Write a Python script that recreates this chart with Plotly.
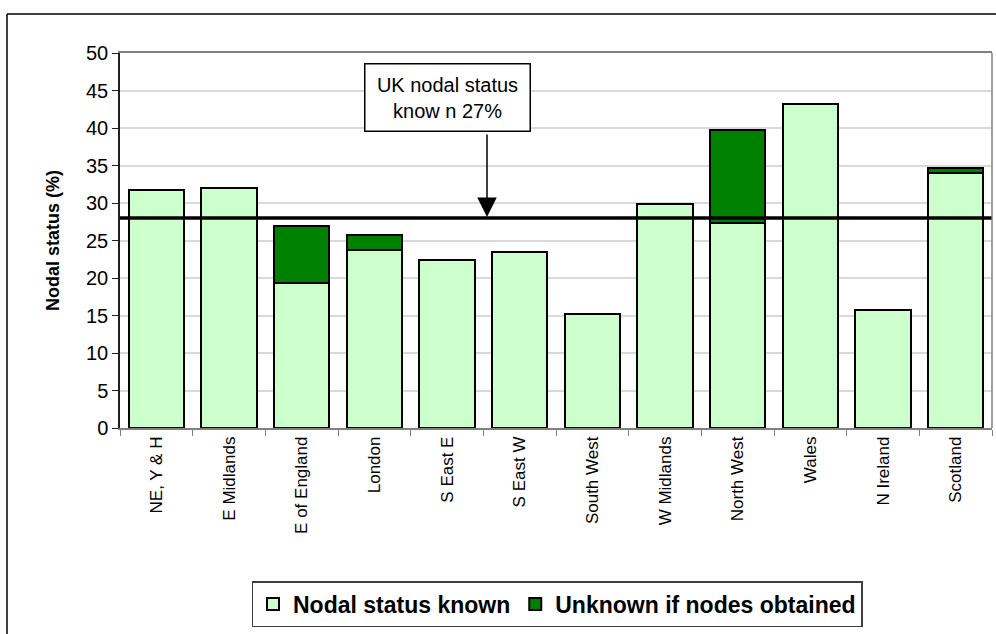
import plotly.graph_objects as go

regions = ['NE, Y & H', 'E Midlands', 'E of England', 'London', 'S East E', 'S East W',
           'South West', 'W Midlands', 'North West', 'Wales', 'N Ireland', 'Scotland']
known = [31.7, 32.0, 19.4, 23.7, 22.4, 23.5, 15.2, 29.9, 27.3, 43.2, 15.7, 34.0]
unknown = [0, 0, 7.6, 2.0, 0, 0, 0, 0, 12.4, 0, 0, 0.7]
uk_level = 28
uk_label = 'UK nodal status<br>know n 27%'

W, H = 996, 634
L, R, T, B = 120, 992, 53, 428   # plot area in pixels


def px(x):
    return (x - L) / (R - L)


def py(y):
    return (B - y) / (B - T)


fig = go.Figure()
fig.add_trace(go.Bar(x=regions, y=known, name='Nodal status known',
                     marker=dict(color='#CCFFCC', line=dict(color='black', width=2))))
fig.add_trace(go.Bar(x=regions, y=unknown, name='Unknown if nodes obtained',
                     marker=dict(color='#008000', line=dict(color='black', width=2))))

# UK average line
fig.add_shape(type='line', xref='paper', x0=0, x1=1, yref='y', y0=uk_level, y1=uk_level,
              line=dict(color='black', width=3.5), layer='above')
# right border of plot area
fig.add_shape(type='line', xref='paper', x0=1, x1=1, yref='paper', y0=0, y1=1,
              line=dict(color='#808080', width=1.5), layer='above')
# outer chart frame (top + left)
fig.add_shape(type='line', xref='paper', yref='paper', x0=px(7), x1=px(996), y0=py(14), y1=py(14),
              line=dict(color='black', width=1.5))
fig.add_shape(type='line', xref='paper', yref='paper', x0=px(7), x1=px(7), y0=py(14), y1=py(634),
              line=dict(color='black', width=1.5))

# text box
fig.add_annotation(xref='paper', yref='paper', x=px(447.5), y=py(97.5), text=uk_label,
                   xanchor='center', yanchor='middle',
                   showarrow=False, font=dict(family='Liberation Sans', size=20, color='black'),
                   bgcolor='white', bordercolor='black', borderwidth=1.5, borderpad=3,
                   width=158, height=60, align='center')
# arrow
fig.add_annotation(xref='paper', yref='y', x=px(487), y=uk_level, text='',
                   showarrow=True, axref='pixel', ayref='pixel', ax=0, ay=-(218 - 133),
                   arrowhead=2, arrowsize=2.6, arrowwidth=1.5, arrowcolor='black', standoff=1)

fig.update_layout(
    width=W, height=H,
    margin=dict(l=L, r=W - R, t=T, b=H - B),
    barmode='stack', bargap=0.24,
    plot_bgcolor='white', paper_bgcolor='white',
    font=dict(family='Liberation Sans', size=15, color='black'),
    showlegend=True,
    legend=dict(orientation='h', xref='paper', yref='paper', x=px(557), y=py(604),
                xanchor='center', yanchor='middle', traceorder='normal',
                font=dict(size=23, family='Liberation Sans', weight='bold'),
                bordercolor='#404040', borderwidth=1.5, bgcolor='white',
                itemwidth=30, tracegroupgap=0),
)
fig.update_yaxes(range=[0, 50], dtick=5, showgrid=True, gridcolor='#d9d9d9', gridwidth=1.5,
                 showline=True, linecolor='#202020', linewidth=1.5,
                 ticks='outside', ticklen=6, tickcolor='#202020',
                 tickfont=dict(size=20), zeroline=False,
                 title=dict(text='<b>Nodal status (%)</b>', font=dict(size=18), standoff=22))
fig.update_xaxes(tickangle=-90, tickfont=dict(size=17), showline=True, linecolor='#808080',
                 linewidth=1.5, mirror=True, ticks='outside', tickson='boundaries', ticklen=6,
                 tickcolor='#808080', showgrid=False)

fig.write_html('out.html', config={'displayModeBar': False},
               post_script="document.body.style.margin='0px';")
